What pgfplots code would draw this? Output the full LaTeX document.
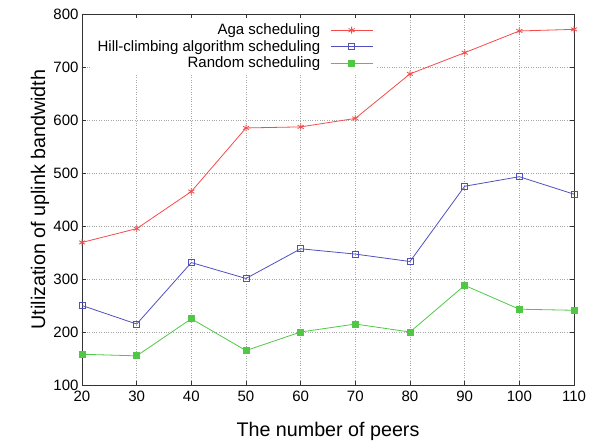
\documentclass[border=0pt]{standalone}
\usepackage{pgfplots}
\pgfplotsset{compat=1.18}
\usepackage{fontspec}
\setmainfont{Liberation Sans}
\definecolor{agared}{RGB}{245,75,75}
\definecolor{hillblue}{RGB}{80,80,190}
\definecolor{randgreen}{RGB}{80,200,70}
\begin{document}
\begin{tikzpicture}
\useasboundingbox (-82pt,-57pt) rectangle (509pt,385pt);
\begin{axis}[
  at={(0,0)}, anchor=south west,
  scale only axis,
  width=492pt, height=371pt,
  xmin=20, xmax=110, ymin=100, ymax=800,
  xtick={20,30,...,110},
  ytick={100,200,...,800},
  tick align=inside,
  major tick length=4pt,
  grid=major,
  grid style={dotted, gray!70, line width=0.6pt},
  axis line style={black!80, line width=0.8pt},
  tick style={black!80, line width=0.6pt},
  /pgf/number format/assume math mode=true,
  tick label style={font=\fontsize{15}{18}\selectfont},
  xticklabel style={yshift=-2pt},
  xlabel={The number of peers},
  ylabel={Utilization of uplink bandwidth},
  label style={font=\fontsize{19.7}{23}\selectfont},
  xlabel style={at={(axis description cs:0.5,-0.124)}, anchor=center},
  ylabel style={at={(axis description cs:-0.0854,0.5)}, anchor=center, rotate=0},
  legend plot pos=right,
  legend cell align=right,
  legend style={at={(rel axis cs:0.600,0.987)}, anchor=north east,
    fill=white, draw=none, font=\fontsize{15}{19.3}\selectfont,
    row sep=0pt, inner xsep=4pt, inner ysep=3pt},
  legend image code/.code={\path (0pt,0pt); \draw[mark repeat=2,mark phase=2] plot coordinates {(8pt,0pt) (29pt,0pt) (50pt,0pt)};},
]
\addplot[color=agared, line width=0.8pt, mark=asterisk, mark size=3.5pt] coordinates {
(20,369) (30,395) (40,465) (50,585) (60,587) (70,603) (80,687) (90,727) (100,768) (110,771)};
\addlegendentry{Aga scheduling}
\addplot[color=hillblue, line width=0.8pt, mark=square, mark size=3pt] coordinates {
(20,250) (30,215) (40,331) (50,301) (60,357) (70,347) (80,333) (90,475) (100,493) (110,460)};
\addlegendentry{Hill-climbing algorithm scheduling}
\addplot[color=randgreen, line width=0.8pt, mark=square*, mark size=3pt] coordinates {
(20,158) (30,155) (40,225) (50,165) (60,200) (70,215) (80,200) (90,288) (100,243) (110,241)};
\addlegendentry{Random scheduling}
\end{axis}
\end{tikzpicture}
\end{document}
